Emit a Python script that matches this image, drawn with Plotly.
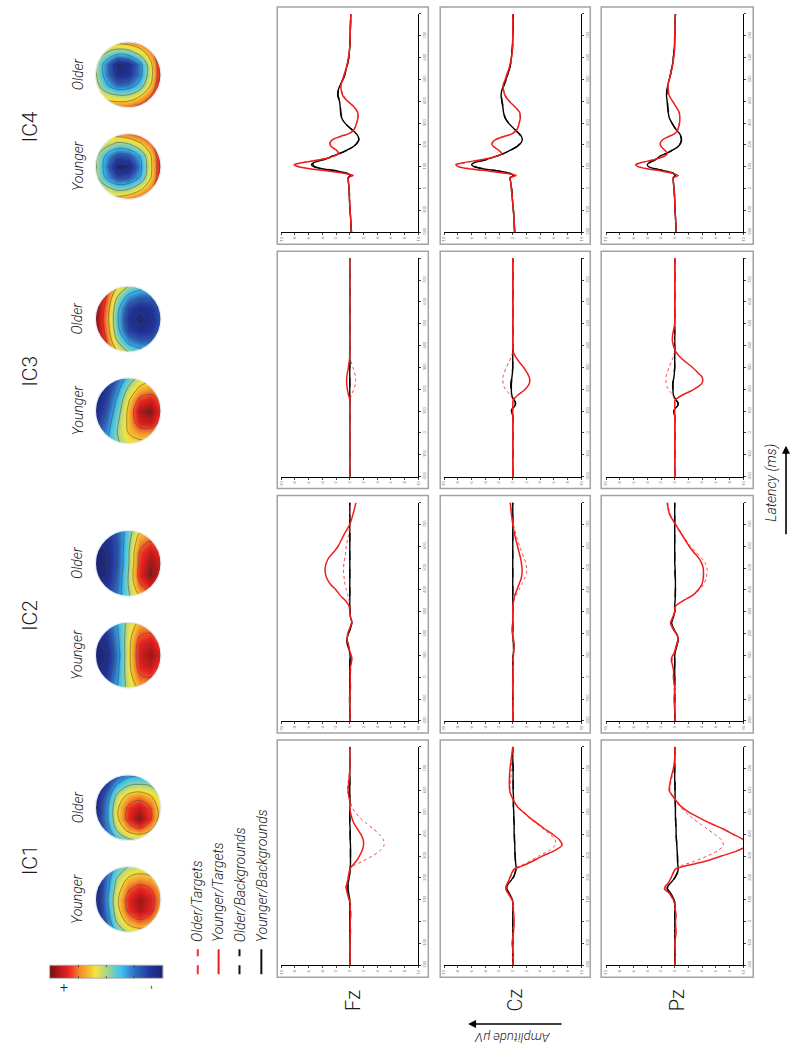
import math
import plotly.graph_objects as go

# ---------------------------------------------------------------- data
LATENCY = [-200, -150, -100, -50, 0, 30, 50, 60, 70, 80, 90,
           100, 110, 120, 130, 140, 150, 160, 175, 190, 200, 210,
           225, 240, 250, 260, 275, 300, 325, 350, 375, 400, 425,
           450, 475, 500, 525, 550, 575, 600, 650, 700, 750, 800]

ZERO = [0.0] * 11

# IC1
IC1_FZ_OT = [0, 0, 0.05, 0, 0.1, 0.05, 0, 0.1, 0, 0.05, 0,
             -0.1, -0.15, -0.25, -0.35, -0.5, -0.6, -0.6, -0.45, -0.3, -0.2, -0.15,
             -0.05, 0.05, 0.3, 0.8, 1.8, 3.3, 4.4, 5.0, 4.9, 4.3, 3.4,
             2.4, 1.5, 0.8, 0.3, 0.1, -0.1, -0.35, -0.2, 0, 0, 0]
IC1_FZ_YT = [0, 0.05, 0, 0.1, 0.05, 0.15, 0.1, 0, 0.05, 0.1, 0,
             -0.1, -0.2, -0.3, -0.35, -0.45, -0.5, -0.5, -0.4, -0.3, -0.25, -0.2,
             -0.1, 0, 0.2, 0.5, 0.9, 1.4, 1.8, 2.0, 1.95, 1.6, 1.1,
             0.6, 0.3, 0.1, 0, 0, -0.15, -0.25, -0.1, 0, 0, 0]
IC1_FZ_OB = [0, 0, 0, 0, 0, 0, 0.05, 0, 0, 0, 0,
             0, -0.05, -0.1, -0.15, -0.2, -0.25, -0.25, -0.2, -0.15, -0.1, -0.05,
             0, 0.05, 0.1, 0.1, 0.1, 0.1, 0.1, 0.1, 0.1, 0.05, 0.05,
             0.05, 0, 0, 0, 0, 0, 0, 0, 0, 0, 0]
IC1_FZ_YB = [0, 0, 0, 0, 0, 0, 0, 0, 0, 0, 0,
             0, -0.05, -0.1, -0.2, -0.25, -0.3, -0.3, -0.25, -0.15, -0.1, -0.05,
             0, 0.05, 0.05, 0.1, 0.1, 0.1, 0.1, 0.1, 0.05, 0.05, 0.05,
             0, 0, 0, 0, 0, 0, 0, 0, 0, 0, 0]

IC1_CZ_OT = [0, -0.05, 0.1, 0, 0.1, 0.05, 0, 0.1, 0.05, 0, -0.05,
             -0.15, -0.3, -0.45, -0.6, -0.8, -0.9, -0.9, -0.7, -0.5, -0.35, -0.2,
             -0.05, 0.2, 0.7, 1.4, 2.4, 3.8, 5.3, 6.2, 6.2, 5.4, 4.4,
             3.4, 2.4, 1.5, 0.7, 0.2, -0.2, -0.4, -0.3, -0.2, -0.1, 0]
IC1_CZ_YT = [0, 0.1, -0.1, 0.1, 0.2, 0.15, 0.1, 0.05, 0, 0.1, 0,
             -0.1, -0.3, -0.5, -0.7, -0.9, -1.0, -1.0, -0.8, -0.55, -0.45, -0.3,
             -0.1, 0.2, 1.0, 1.8, 2.8, 4.3, 6.1, 7.2, 6.8, 5.8, 4.6,
             3.6, 2.5, 1.6, 0.7, 0.2, -0.2, -0.45, -0.5, -0.4, -0.2, 0]
IC1_CZ_OB = [0, 0, 0, 0, 0, 0, 0, 0, 0, 0, 0,
             -0.05, -0.15, -0.3, -0.5, -0.7, -0.85, -0.85, -0.55, -0.15, 0.05, 0.2,
             0.35, 0.45, 0.5, 0.45, 0.4, 0.35, 0.3, 0.3, 0.25, 0.25, 0.2,
             0.2, 0.15, 0.15, 0.1, 0.1, 0.1, 0.1, 0.05, 0.05, 0, 0]
IC1_CZ_YB = [0, 0, 0, 0, 0, 0, 0, 0, 0, 0, 0,
             -0.05, -0.2, -0.35, -0.55, -0.75, -0.9, -0.9, -0.6, -0.2, 0, 0.2,
             0.35, 0.5, 0.5, 0.45, 0.4, 0.35, 0.3, 0.3, 0.25, 0.2, 0.2,
             0.2, 0.15, 0.15, 0.1, 0.1, 0.1, 0.05, 0.05, 0.05, 0, 0]

IC1_PZ_OT = [0, 0.05, 0.1, 0, 0.1, 0.15, 0.05, 0.1, 0, 0.05, -0.05,
             -0.2, -0.35, -0.55, -0.75, -1.1, -1.3, -1.3, -0.95, -0.65, -0.5, -0.35,
             -0.15, 0.1, 0.5, 1.3, 2.8, 4.7, 6.3, 7.1, 6.8, 5.8, 4.7,
             3.6, 2.5, 1.6, 0.8, 0.2, -0.3, -0.7, -0.5, -0.1, 0, 0]
IC1_PZ_YT = [0, 0.1, 0, 0.2, 0.1, 0.2, 0.1, 0, 0.1, 0, -0.1,
             -0.2, -0.4, -0.6, -0.8, -1.2, -1.5, -1.4, -1.0, -0.7, -0.55, -0.4,
             -0.2, 0.1, 1.0, 2.3, 4.3, 6.8, 9.2, 10.6, 10.0, 8.5, 7.0,
             5.2, 3.6, 2.1, 1.0, 0.3, -0.3, -0.8, -0.6, -0.2, 0, 0]
IC1_PZ_OB = [0, 0, 0, 0, 0, 0, 0, 0, 0, 0, 0,
             -0.1, -0.2, -0.35, -0.6, -0.85, -1.05, -1.0, -0.6, -0.2, 0, 0.2,
             0.4, 0.5, 0.5, 0.45, 0.45, 0.4, 0.35, 0.3, 0.25, 0.2, 0.2,
             0.15, 0.15, 0.1, 0.1, 0.1, 0.05, 0.05, 0.05, 0, 0, 0]
IC1_PZ_YB = [0, 0, 0, 0, 0, 0, 0, 0, 0, 0, 0,
             -0.1, -0.25, -0.4, -0.65, -0.9, -1.1, -1.05, -0.65, -0.25, 0, 0.15,
             0.4, 0.5, 0.5, 0.45, 0.4, 0.4, 0.35, 0.3, 0.25, 0.2, 0.2,
             0.15, 0.1, 0.1, 0.1, 0.05, 0.05, 0.05, 0, 0, 0, 0]

# IC2
IC2_FZ_OT = [0, 0, 0.05, 0, 0.1, 0.05, 0.1, 0.15, 0.2, 0.25, 0.2,
             0.15, 0.1, 0, -0.05, -0.1, -0.2, -0.3, -0.35, -0.3, -0.25, -0.15,
             0, 0.15, 0.25, 0.2, 0.1, 0, 0, -0.1, -0.3, -0.5, -0.7,
             -0.8, -0.9, -0.9, -0.85, -0.7, -0.6, -0.5, -0.2, 0, 0, 0.1]
IC2_FZ_YT = [0, 0.05, -0.05, 0.1, 0.05, 0.1, 0.1, 0.2, 0.25, 0.3, 0.3,
             0.2, 0.1, 0, -0.1, -0.15, -0.2, -0.3, -0.4, -0.35, -0.3, -0.2,
             0, 0.2, 0.3, 0.25, 0.1, 0, -0.1, -0.6, -1.4, -2.0, -2.8,
             -3.3, -3.55, -3.6, -3.4, -3.0, -2.3, -1.7, -0.9, 0, 0.5, 0.9]
IC2_FZ_OB = [0, 0, 0, 0, 0, 0, 0, 0.05, 0.05, 0.05, 0.05,
             0, 0, -0.05, -0.1, -0.2, -0.3, -0.35, -0.4, -0.3, -0.2, -0.1,
             0.05, 0.2, 0.25, 0.2, 0.1, 0, 0, 0, 0, 0, 0,
             0, 0, 0, 0, 0, 0, 0, 0, 0, 0, 0]
IC2_FZ_YB = [0, 0, 0, 0, 0, 0, 0, 0, 0, 0.05, 0.05,
             0.05, 0, -0.05, -0.15, -0.25, -0.35, -0.4, -0.4, -0.3, -0.2, -0.05,
             0.1, 0.25, 0.3, 0.25, 0.1, 0.05, 0, 0, 0, 0, 0,
             0, 0, 0, 0, 0, 0, 0, 0, 0, 0, 0]

IC2_CZ_OT = [0, 0, 0, 0.05, 0, 0, 0.05, 0.05, 0, 0.05, 0,
             0.05, 0.1, 0.1, 0.1, 0.15, 0.15, 0.1, 0.05, 0, -0.05, -0.05,
             -0.05, 0, 0, 0, 0, 0, 0.05, 0.2, 0.5, 0.9, 1.3,
             1.7, 2.0, 2.0, 1.9, 1.6, 1.3, 1.0, 0.5, 0.1, -0.2, -0.4]
IC2_CZ_YT = [0, 0, 0.05, 0, 0, 0.05, 0, 0.1, 0.05, 0, 0.05,
             0.1, 0.1, 0.1, 0.15, 0.2, 0.2, 0.15, 0.1, 0, -0.05, -0.1,
             -0.1, -0.05, 0, 0, 0, 0, 0, 0.1, 0.3, 0.6, 0.9,
             1.2, 1.35, 1.35, 1.25, 1.1, 0.9, 0.7, 0.3, 0, -0.2, -0.35]
IC2_CZ_OB = ZERO + [0, 0.05, 0.1, 0.1, 0.1, 0.1, 0.1, 0.05, 0, 0, 0] + ZERO + ZERO
IC2_CZ_YB = ZERO + [0.05, 0.1, 0.15, 0.15, 0.15, 0.15, 0.1, 0.05, 0, 0, 0] + ZERO + ZERO

IC2_PZ_OT = [0, 0.05, 0, -0.1, -0.1, -0.2, -0.25, -0.3, -0.3, -0.35, -0.3,
             -0.2, -0.05, 0.05, 0.15, 0.2, 0.3, 0.35, 0.45, 0.35, 0.2, 0,
             -0.25, -0.45, -0.5, -0.45, -0.25, 0, 0.1, 1.1, 2.6, 3.6, 4.2,
             4.55, 4.7, 4.7, 4.4, 3.8, 3.0, 2.3, 1.2, 0.2, -0.7, -1.0]
IC2_PZ_YT = [0.1, 0, -0.1, 0, -0.2, -0.15, -0.3, -0.35, -0.45, -0.5, -0.45,
             -0.3, -0.1, 0, 0.1, 0.2, 0.3, 0.4, 0.5, 0.4, 0.2, 0,
             -0.3, -0.55, -0.6, -0.5, -0.3, 0, 0.1, 1.2, 2.6, 3.4, 3.95,
             4.15, 4.2, 4.15, 3.9, 3.4, 2.7, 2.1, 1.1, 0.1, -0.8, -1.1]
IC2_PZ_OB = [0, 0, 0, 0, 0, 0, 0, 0, 0, 0, 0,
             0, 0.05, 0.1, 0.15, 0.2, 0.3, 0.4, 0.45, 0.35, 0.2, 0,
             -0.25, -0.4, -0.45, -0.35, -0.2, 0, 0, 0.05, 0.05, 0.1, 0.1,
             0.1, 0.05, 0.05, 0, 0, 0, 0, 0, 0, 0, 0]
IC2_PZ_YB = [0, 0, 0, 0, 0, 0, 0, 0, 0, 0, 0,
             0, 0.05, 0.1, 0.2, 0.3, 0.35, 0.45, 0.5, 0.4, 0.25, 0.05,
             -0.2, -0.4, -0.45, -0.35, -0.2, 0, 0, 0.05, 0.1, 0.1, 0.1,
             0.1, 0.05, 0.05, 0, 0, 0, 0, 0, 0, 0, 0]

# IC3
IC3_FZ_OT = ZERO + [0, 0, 0, 0, 0, 0.02, 0.1, 0.25, 0.45, 0.55, 0.7] + \
    [0.8, 0.85, 0.85, 0.8, 0.7, 0.45, 0.2, 0.05, 0, 0, 0] + ZERO
IC3_FZ_YT = ZERO + [0, 0, 0, 0, 0, 0, -0.05, -0.2, -0.3, -0.35, -0.4] + \
    [-0.45, -0.45, -0.45, -0.42, -0.35, -0.2, -0.1, 0, 0, 0, 0] + ZERO
IC3_FZ_OB = ZERO * 4
IC3_FZ_YB = ZERO * 4

IC3_CZ_OT = ZERO + [0, 0, 0, 0, 0, 0, -0.1, -0.4, -0.8, -1.05, -1.25] + \
    [-1.4, -1.45, -1.45, -1.4, -1.25, -0.95, -0.55, -0.2, 0, 0, 0] + ZERO
IC3_CZ_YT = ZERO + [0, 0, 0, 0, 0.02, 0.05, 0.3, 0.8, 1.45, 1.8, 2.1] + \
    [2.4, 2.5, 2.45, 2.35, 2.1, 1.6, 0.95, 0.4, 0.05, 0, 0] + ZERO
IC3_CZ_OB = [0, 0, 0, 0, 0, 0, 0, 0, 0, 0, -0.1,
             -0.15, -0.05, 0.15, 0.35, 0.35, 0.2, 0, -0.2, -0.3, -0.3, -0.3,
             -0.3, -0.25, -0.2, -0.15, -0.1, 0, 0, 0, 0, 0, 0] + ZERO
IC3_CZ_YB = [0, 0, 0, 0, 0, 0, 0, 0, 0, 0, -0.1,
             -0.2, -0.1, 0.2, 0.4, 0.4, 0.2, 0, -0.15, -0.2, -0.2, -0.2,
             -0.2, -0.15, -0.15, -0.1, -0.05, 0, 0, 0, 0, 0, 0] + ZERO

IC3_PZ_OT = ZERO + [0, 0, 0, 0, 0, 0, -0.1, -0.35, -0.7, -0.95, -1.1] + \
    [-1.25, -1.3, -1.3, -1.25, -1.1, -0.85, -0.5, -0.2, 0, 0, 0] + ZERO
IC3_PZ_YT = ZERO + [0, 0, 0, 0, 0.02, 0.05, 0.4, 1.2, 2.2, 2.8, 3.3] + \
    [3.9, 4.1, 4.05, 3.9, 3.4, 2.6, 1.6, 0.7, 0.1, -0.2, -0.35] + \
    [-0.3, -0.15, 0, 0, 0, 0, 0, 0, 0, 0, 0]
IC3_PZ_OB = [0, 0, 0, 0, 0, 0, 0, 0, 0, 0, -0.1,
             -0.15, 0, 0.3, 0.5, 0.45, 0.2, 0, -0.2, -0.25, -0.3, -0.3,
             -0.3, -0.25, -0.2, -0.15, -0.1, 0, 0, 0, 0, 0, 0] + ZERO
IC3_PZ_YB = [0, 0, 0, 0, 0, 0, 0, 0, 0, 0, -0.1,
             -0.15, 0, 0.3, 0.5, 0.45, 0.2, 0, -0.2, -0.25, -0.25, -0.25,
             -0.25, -0.2, -0.15, -0.1, -0.05, 0, 0, 0, 0, 0, 0] + ZERO

# IC4
IC4_FZ_OT = [0.2, 0.15, 0.05, 0, -0.1, -0.2, -0.2, 0.45, -0.7, -2.8, -5.4,
             -7.3, -7.9, -6.7, -4.8, -3.2, -2.2, -1.7, -2.0, -2.6, -2.8, -2.8,
             -2.4, -1.2, -0.3, 0.25, 0.65, 0.95, 1.15, 1.1, 0.6, -0.25, -0.9,
             -1.2, -1.25, -1.0, -0.75, -0.5, -0.3, -0.15, 0, 0.05, 0.1, 0.15]
IC4_FZ_YT = [0.25, 0.15, 0.05, -0.05, -0.1, -0.2, -0.25, 0.5, -0.8, -3.0, -5.6,
             -7.5, -8.1, -6.8, -4.8, -3.2, -2.2, -1.6, -1.9, -2.6, -2.85, -2.9,
             -2.5, -1.3, -0.3, 0.3, 0.7, 1.0, 1.2, 1.15, 0.6, -0.3, -1.0,
             -1.25, -1.3, -1.05, -0.8, -0.55, -0.35, -0.2, 0, 0.05, 0.1, 0.15]
IC4_FZ_OB = [0.2, 0.15, 0.05, 0, -0.1, -0.2, -0.2, 0.1, -0.35, -1.7, -3.6,
             -5.0, -5.4, -5.0, -4.1, -3.1, -2.4, -1.5, -0.45, 0.4, 0.8, 1.05,
             1.3, 1.15, 0.95, 0.65, 0.1, -0.7, -1.15, -1.3, -1.35, -1.45, -1.7,
             -1.65, -1.35, -1.0, -0.7, -0.45, -0.3, -0.15, 0, 0.05, 0.1, 0.15]
IC4_FZ_YB = [0.25, 0.15, 0.05, -0.05, -0.1, -0.2, -0.25, 0.1, -0.4, -1.8, -3.8,
             -5.2, -5.6, -5.2, -4.2, -3.2, -2.5, -1.6, -0.5, 0.4, 0.8, 1.1,
             1.35, 1.2, 1.0, 0.7, 0.15, -0.7, -1.2, -1.35, -1.4, -1.5, -1.75,
             -1.7, -1.4, -1.0, -0.7, -0.5, -0.3, -0.15, 0, 0.05, 0.1, 0.15]

IC4_CZ_OT = [0.25, 0.2, 0.1, 0, -0.15, -0.3, -0.35, 0.45, -0.8, -3.1, -5.9,
             -7.7, -8.1, -6.9, -5.0, -3.3, -2.3, -1.7, -2.1, -2.7, -2.95, -2.95,
             -2.4, -1.15, -0.2, 0.25, 0.65, 0.9, 1.05, 0.95, 0.3, -0.45, -1.0,
             -1.3, -1.35, -1.05, -0.8, -0.5, -0.3, -0.15, 0, 0, 0, 0]
IC4_CZ_YT = [0.3, 0.2, 0.1, -0.05, -0.2, -0.3, -0.4, 0.5, -0.9, -3.3, -6.1,
             -7.9, -8.3, -7.0, -5.0, -3.3, -2.2, -1.6, -2.0, -2.7, -3.0, -3.0,
             -2.5, -1.2, -0.2, 0.3, 0.7, 0.95, 1.1, 1.0, 0.3, -0.5, -1.1,
             -1.35, -1.4, -1.1, -0.85, -0.55, -0.35, -0.2, 0, 0, 0, 0]
IC4_CZ_OB = [0.25, 0.2, 0.1, 0, -0.15, -0.3, -0.35, 0.1, -0.35, -1.9, -4.0,
             -5.4, -5.8, -5.4, -4.2, -3.1, -2.2, -1.35, -0.4, 0.45, 0.85, 1.15,
             1.35, 1.2, 0.95, 0.65, 0.1, -0.6, -1.1, -1.3, -1.4, -1.55, -1.65,
             -1.55, -1.25, -0.95, -0.7, -0.45, -0.3, -0.2, -0.05, 0, 0.05, 0.05]
IC4_CZ_YB = [0.3, 0.2, 0.1, -0.05, -0.2, -0.3, -0.4, 0.1, -0.4, -2.0, -4.2,
             -5.6, -6.0, -5.5, -4.3, -3.2, -2.3, -1.4, -0.4, 0.5, 0.9, 1.2,
             1.4, 1.25, 1.0, 0.7, 0.15, -0.6, -1.15, -1.35, -1.45, -1.6, -1.7,
             -1.6, -1.3, -1.0, -0.7, -0.5, -0.3, -0.2, -0.05, 0, 0.05, 0.05]

IC4_PZ_OT = [0.2, 0.1, 0.05, 0, -0.1, -0.15, -0.2, 0.45, -0.3, -1.7, -3.6,
             -5.1, -5.5, -4.7, -3.4, -2.2, -1.45, -1.15, -1.45, -1.9, -2.05, -2.05,
             -1.65, -0.8, -0.1, 0.2, 0.45, 0.65, 0.7, 0.6, 0.2, -0.3, -0.75,
             -0.9, -0.95, -0.8, -0.6, -0.4, -0.25, -0.15, 0, 0, 0.05, 0.1]
IC4_PZ_YT = [0.2, 0.15, 0.05, 0, -0.1, -0.2, -0.2, 0.5, -0.3, -1.8, -3.8,
             -5.3, -5.7, -4.8, -3.4, -2.2, -1.4, -1.1, -1.4, -1.9, -2.1, -2.1,
             -1.7, -0.8, -0.1, 0.25, 0.5, 0.7, 0.75, 0.65, 0.2, -0.3, -0.8,
             -0.95, -1.0, -0.8, -0.6, -0.4, -0.25, -0.15, 0, 0, 0.05, 0.1]
IC4_PZ_OB = [0.2, 0.1, 0.05, 0, -0.1, -0.15, -0.2, 0.1, -0.2, -1.1, -2.7,
             -3.7, -3.9, -3.6, -3.0, -2.4, -2.0, -1.25, -0.4, 0.35, 0.65, 0.85,
             0.95, 0.85, 0.7, 0.45, 0.1, -0.4, -0.75, -0.9, -1.0, -1.05, -1.15,
             -1.1, -0.95, -0.8, -0.6, -0.45, -0.3, -0.2, -0.05, 0, 0.05, 0.1]
IC4_PZ_YB = [0.2, 0.15, 0.05, 0, -0.1, -0.2, -0.2, 0.1, -0.2, -1.2, -2.8,
             -3.8, -4.0, -3.7, -3.0, -2.5, -2.1, -1.3, -0.4, 0.4, 0.7, 0.9,
             1.0, 0.9, 0.75, 0.5, 0.1, -0.4, -0.8, -0.95, -1.05, -1.1, -1.2,
             -1.15, -1.0, -0.8, -0.6, -0.45, -0.3, -0.2, -0.05, 0, 0.05, 0.1]

# scalp maps: 7x7 grids, rows listed top to bottom as drawn, columns left to right
MAP_COORD = [-1.0, -2 / 3, -1 / 3, 0.0, 1 / 3, 2 / 3, 1.0]
IC1_YOUNGER_MAP = [[-0.9, -0.6, -0.2, 0.0, 0.1, 0.05, -0.1],
                   [-0.95, -0.5, 0.0, 0.3, 0.4, 0.35, 0.15],
                   [-1.0, -0.45, 0.15, 0.55, 0.7, 0.6, 0.35],
                   [-1.0, -0.4, 0.25, 0.7, 0.9, 0.75, 0.4],
                   [-1.0, -0.45, 0.2, 0.65, 0.85, 0.7, 0.35],
                   [-0.95, -0.55, 0.05, 0.4, 0.55, 0.45, 0.15],
                   [-0.9, -0.65, -0.2, 0.05, 0.15, 0.1, -0.1]]
IC1_OLDER_MAP = [[-1.0, -0.85, -0.6, -0.4, -0.35, -0.4, -0.5],
                 [-1.0, -0.7, -0.25, 0.0, 0.05, 0.0, -0.2],
                 [-0.95, -0.5, 0.1, 0.4, 0.5, 0.35, 0.05],
                 [-0.95, -0.4, 0.25, 0.65, 0.8, 0.6, 0.15],
                 [-0.9, -0.4, 0.25, 0.7, 0.95, 0.65, 0.15],
                 [-0.9, -0.5, 0.05, 0.4, 0.55, 0.35, -0.05],
                 [-0.9, -0.65, -0.3, -0.1, -0.05, -0.15, -0.35]]
IC2_YOUNGER_MAP = [[-0.7, -0.6, -0.3, 0.1, 0.35, 0.4, 0.3],
                   [-0.85, -0.75, -0.35, 0.15, 0.55, 0.6, 0.45],
                   [-0.95, -0.85, -0.4, 0.2, 0.7, 0.8, 0.6],
                   [-1.0, -0.9, -0.45, 0.2, 0.75, 0.9, 0.7],
                   [-0.95, -0.85, -0.4, 0.2, 0.7, 0.8, 0.6],
                   [-0.85, -0.75, -0.35, 0.15, 0.55, 0.6, 0.45],
                   [-0.7, -0.6, -0.3, 0.1, 0.35, 0.4, 0.3]]
IC2_OLDER_MAP = [[-0.8, -0.75, -0.55, -0.15, 0.25, 0.35, 0.3],
                 [-0.9, -0.85, -0.6, -0.1, 0.45, 0.6, 0.5],
                 [-1.0, -0.9, -0.6, -0.05, 0.6, 0.8, 0.65],
                 [-1.0, -0.9, -0.6, -0.05, 0.65, 0.9, 0.75],
                 [-0.95, -0.9, -0.55, 0.0, 0.7, 0.95, 0.75],
                 [-0.9, -0.8, -0.5, 0.0, 0.55, 0.75, 0.6],
                 [-0.8, -0.7, -0.45, -0.05, 0.3, 0.45, 0.4]]
IC3_YOUNGER_MAP = [[-1.0, -0.85, -0.55, -0.2, 0.1, 0.2, 0.15],
                   [-1.0, -0.8, -0.4, 0.05, 0.35, 0.45, 0.35],
                   [-0.95, -0.7, -0.25, 0.25, 0.65, 0.75, 0.55],
                   [-0.9, -0.6, -0.15, 0.35, 0.85, 0.95, 0.65],
                   [-0.8, -0.5, -0.05, 0.35, 0.75, 0.8, 0.55],
                   [-0.7, -0.4, 0.0, 0.3, 0.45, 0.45, 0.3],
                   [-0.6, -0.35, -0.05, 0.15, 0.2, 0.2, 0.1]]
IC3_OLDER_MAP = [[0.9, 0.7, 0.3, 0.0, -0.15, -0.25, -0.35],
                 [1.0, 0.6, 0.0, -0.4, -0.55, -0.55, -0.45],
                 [1.0, 0.5, -0.2, -0.7, -0.85, -0.8, -0.55],
                 [1.0, 0.45, -0.25, -0.8, -0.95, -0.85, -0.6],
                 [1.0, 0.5, -0.2, -0.7, -0.85, -0.8, -0.55],
                 [1.0, 0.6, 0.0, -0.4, -0.55, -0.55, -0.45],
                 [0.9, 0.7, 0.3, 0.0, -0.15, -0.25, -0.35]]
IC4_YOUNGER_MAP = [[0.35, 0.4, 0.45, 0.55, 0.65, 0.8, 0.9],
                   [0.25, 0.1, -0.1, -0.05, 0.2, 0.5, 0.9],
                   [0.1, -0.35, -0.65, -0.6, -0.3, 0.25, 0.85],
                   [0.05, -0.45, -1.0, -0.95, -0.45, 0.2, 0.85],
                   [0.1, -0.35, -0.65, -0.6, -0.3, 0.25, 0.85],
                   [0.25, 0.1, -0.1, -0.05, 0.2, 0.5, 0.9],
                   [0.35, 0.4, 0.45, 0.55, 0.65, 0.8, 0.9]]
IC4_OLDER_MAP = [[0.35, 0.35, 0.4, 0.45, 0.55, 0.75, 0.9],
                 [0.2, 0.0, -0.2, -0.15, 0.1, 0.45, 0.9],
                 [0.05, -0.45, -0.95, -0.85, -0.45, 0.2, 0.85],
                 [0.05, -0.45, -0.85, -0.8, -0.45, 0.15, 0.85],
                 [0.15, -0.25, -0.5, -0.45, -0.2, 0.3, 0.9],
                 [0.3, 0.2, 0.1, 0.1, 0.3, 0.6, 0.95],
                 [0.45, 0.5, 0.55, 0.6, 0.7, 0.85, 0.95]]

COLORBAR_LEVELS = [1.0, 0.9, 0.8, 0.7, 0.6, 0.5, 0.4, 0.3, 0.2, 0.1, 0.0,
                   -0.1, -0.2, -0.3, -0.4, -0.5, -0.6, -0.7, -0.8, -0.9, -1.0]

IC_LABELS = ["IC1", "IC2", "IC3", "IC4"]
ELECTRODES = ["Fz", "Cz", "Pz"]
GROUP_LABELS = ["Younger", "Older"]
CONDITION_LABELS = ["Older/Targets", "Younger/Targets",
                    "Older/Backgrounds", "Younger/Backgrounds"]
AMP_TICKS = [-10, -8, -6, -4, -2, 0, 2, 4, 6, 8, 10]
LAT_TICKS = [-200, -100, 0, 100, 200, 300, 400, 500, 600, 700, 800]
LAT_TICK_TEXT = ["-200", "-100", "0", "100", "200", "300", "400",
                 "500", "600", "700", ""]

WAVES = {
    (0, 0): (IC1_FZ_OT, IC1_FZ_YT, IC1_FZ_OB, IC1_FZ_YB),
    (0, 1): (IC1_CZ_OT, IC1_CZ_YT, IC1_CZ_OB, IC1_CZ_YB),
    (0, 2): (IC1_PZ_OT, IC1_PZ_YT, IC1_PZ_OB, IC1_PZ_YB),
    (1, 0): (IC2_FZ_OT, IC2_FZ_YT, IC2_FZ_OB, IC2_FZ_YB),
    (1, 1): (IC2_CZ_OT, IC2_CZ_YT, IC2_CZ_OB, IC2_CZ_YB),
    (1, 2): (IC2_PZ_OT, IC2_PZ_YT, IC2_PZ_OB, IC2_PZ_YB),
    (2, 0): (IC3_FZ_OT, IC3_FZ_YT, IC3_FZ_OB, IC3_FZ_YB),
    (2, 1): (IC3_CZ_OT, IC3_CZ_YT, IC3_CZ_OB, IC3_CZ_YB),
    (2, 2): (IC3_PZ_OT, IC3_PZ_YT, IC3_PZ_OB, IC3_PZ_YB),
    (3, 0): (IC4_FZ_OT, IC4_FZ_YT, IC4_FZ_OB, IC4_FZ_YB),
    (3, 1): (IC4_CZ_OT, IC4_CZ_YT, IC4_CZ_OB, IC4_CZ_YB),
    (3, 2): (IC4_PZ_OT, IC4_PZ_YT, IC4_PZ_OB, IC4_PZ_YB),
}
MAPS = [(IC1_YOUNGER_MAP, IC1_OLDER_MAP), (IC2_YOUNGER_MAP, IC2_OLDER_MAP),
        (IC3_YOUNGER_MAP, IC3_OLDER_MAP), (IC4_YOUNGER_MAP, IC4_OLDER_MAP)]

for key, series in WAVES.items():
    for s in series:
        assert len(s) == len(LATENCY), (key, len(s))

# ---------------------------------------------------------------- layout helpers
W, H = 791, 1053
FONT = "Roboto, 'Liberation Sans', Arial, sans-serif"
JET = [[0.0, "#1b2470"], [0.12, "#23369a"], [0.25, "#2f6cc0"],
       [0.38, "#3ec4ef"], [0.5, "#a7d58e"], [0.6, "#f3e53c"],
       [0.72, "#f6982a"], [0.84, "#ea2522"], [1.0, "#7a0f12"]]


def px(x):
    return x / W


def py(y):
    return 1 - y / H


def label(text, x, y, size, angle=-90, italic=False, **extra):
    font = dict(size=size, family=FONT, color="#1a1a1a", weight=300)
    if italic:
        font["style"] = "italic"
    ann = dict(text=text, x=px(x), y=py(y), xref="paper", yref="paper",
               showarrow=False, textangle=angle, xanchor="center",
               yanchor="middle", font=font)
    ann.update(extra)
    return ann


fig = go.Figure()
layout = {}
shapes = []
annotations = []

# condition styles: backgrounds drawn first, targets on top
STYLES = [
    (2, dict(color="#111111", width=1.4, dash="dash")),      # Older/Backgrounds
    (3, dict(color="#000000", width=1.4)),                   # Younger/Backgrounds
    (0, dict(color="#ff2b2b", width=0.9, dash="dot")),       # Older/Targets
    (1, dict(color="#ee1d1d", width=1.5)),                   # Younger/Targets
]

IC_TOP = [742, 497, 252, 7]
AXIS_X = [(280, 418), (444, 582), (607, 745)]
FRAME_X = [(276, 428), (440, 591), (602, 755)]

k = 0
for i in range(4):
    top = IC_TOP[i]
    for j in range(3):
        k += 1
        sfx = "" if k == 1 else str(k)
        series = WAVES[(i, j)]
        for idx, style in STYLES:
            fig.add_trace(go.Scatter(
                x=series[idx], y=LATENCY, mode="lines",
                line=dict(shape="spline", smoothing=0.7, **style),
                xaxis="x" + sfx, yaxis="y" + sfx,
                showlegend=False, hoverinfo="skip"))
        x0, x1 = AXIS_X[j]
        layout["xaxis" + sfx] = dict(
            domain=[px(x0), px(x1)], range=[-10, 10], anchor="y" + sfx,
            side="bottom", showline=True, linecolor="black", linewidth=1.2,
            ticks="outside", ticklen=2, tickwidth=0.6, tickcolor="#444",
            tickvals=AMP_TICKS, ticktext=[str(v) for v in AMP_TICKS],
            tickangle=-90, tickfont=dict(size=4, color="#777", family=FONT),
            showgrid=False, zeroline=False, fixedrange=True)
        layout["yaxis" + sfx] = dict(
            domain=[py(top + 226), py(top + 7)], range=[-200, 800],
            anchor="x" + sfx, side="right", showline=True, linecolor="black",
            linewidth=1.2, ticks="outside", ticklen=2, tickwidth=0.6,
            tickcolor="#444", tickvals=LAT_TICKS, ticktext=LAT_TICK_TEXT,
            tickangle=-90, tickfont=dict(size=4, color="#777", family=FONT),
            showgrid=False, zeroline=False, fixedrange=True)
        fx0, fx1 = FRAME_X[j]
        shapes.append(dict(type="rect", xref="paper", yref="paper",
                           x0=px(fx0), x1=px(fx1), y0=py(top + 238), y1=py(top),
                           line=dict(color="#a3a3a3", width=1.5), layer="below"))

# ---------------------------------------------------------------- scalp maps
MAP_CX, MAP_R, MAP_PAD = 126, 33, 1.35
circle_pts = [(math.cos(2 * math.pi * t / 96), math.sin(2 * math.pi * t / 96))
              for t in range(96)]
hole = "M " + " L ".join(f"{c:.4f},{s:.4f}" for c, s in circle_pts) + " Z"
outer = (f"M {-MAP_PAD},{-MAP_PAD} L {-MAP_PAD},{MAP_PAD} L {MAP_PAD},{MAP_PAD} "
         f"L {MAP_PAD},{-MAP_PAD} Z ")

for i in range(4):
    centre = IC_TOP[i] + 119
    annotations.append(label(IC_LABELS[i], 27, centre + 1, 21))
    for g, cy in enumerate((centre + 41, centre - 51)):
        k += 1
        sfx = str(k)
        grid = MAPS[i][g]
        fig.add_trace(go.Contour(
            z=grid[::-1], x=MAP_COORD, y=MAP_COORD, colorscale=JET,
            zmin=-1, zmax=1, showscale=False, hoverinfo="skip",
            contours=dict(start=-0.9, end=0.9, size=0.3, coloring="heatmap",
                          showlines=True),
            line=dict(color="rgba(70,70,70,0.75)", width=0.7, smoothing=1.2),
            xaxis="x" + sfx, yaxis="y" + sfx))
        half = MAP_R * MAP_PAD
        layout["xaxis" + sfx] = dict(domain=[px(MAP_CX - half), px(MAP_CX + half)],
                                     range=[-MAP_PAD, MAP_PAD], visible=False,
                                     anchor="y" + sfx, fixedrange=True)
        layout["yaxis" + sfx] = dict(domain=[py(cy + half), py(cy - half)],
                                     range=[-MAP_PAD, MAP_PAD], visible=False,
                                     anchor="x" + sfx, fixedrange=True)
        shapes.append(dict(type="path", xref="x" + sfx, yref="y" + sfx,
                           path=outer + hole, fillcolor="white",
                           line=dict(width=0), layer="above"))
        shapes.append(dict(type="circle", xref="x" + sfx, yref="y" + sfx,
                           x0=-1, x1=1, y0=-1, y1=1,
                           line=dict(color="#e3edf5", width=1.2), layer="above"))
        annotations.append(label(GROUP_LABELS[g], 75, cy, 14, italic=True))

# ---------------------------------------------------------------- colour bar
k += 1
sfx = str(k)
fig.add_trace(go.Heatmap(z=[COLORBAR_LEVELS, COLORBAR_LEVELS],
                         x=list(range(len(COLORBAR_LEVELS))), y=[0, 1],
                         colorscale=JET, zmin=-1, zmax=1, zsmooth="best",
                         showscale=False, hoverinfo="skip",
                         xaxis="x" + sfx, yaxis="y" + sfx))
layout["xaxis" + sfx] = dict(domain=[px(47), px(161)], range=[0, len(COLORBAR_LEVELS) - 1],
                             visible=False, anchor="y" + sfx, fixedrange=True)
layout["yaxis" + sfx] = dict(domain=[py(981), py(968)], range=[0, 1],
                             visible=False, anchor="x" + sfx, fixedrange=True)
shapes.append(dict(type="rect", xref="paper", yref="paper", x0=px(47), x1=px(161),
                   y0=py(981), y1=py(968), line=dict(color="#999", width=0.8)))
for tx in (76, 104, 132):
    for ty0, ty1 in ((968, 970), (979, 981)):
        shapes.append(dict(type="line", xref="paper", yref="paper",
                           x0=px(tx), x1=px(tx), y0=py(ty0), y1=py(ty1),
                           line=dict(color="#333", width=0.8)))
annotations.append(label("+", 61, 990, 14, angle=0))
annotations.append(label("-", 149, 990, 14))

# ---------------------------------------------------------------- legend
LEGEND_X = [196, 217, 238, 260]
LEGEND_LINES = [dict(color="#ff2b2b", width=2, dash="dash"),
                dict(color="#ee1d1d", width=2),
                dict(color="#111111", width=2, dash="dash"),
                dict(color="#111111", width=2)]
for lx, lab, lstyle in zip(LEGEND_X, CONDITION_LABELS, LEGEND_LINES):
    shapes.append(dict(type="line", xref="paper", yref="paper",
                       x0=px(lx), x1=px(lx), y0=py(977), y1=py(952), line=lstyle))
    annotations.append(label(lab, lx, 947, 14, italic=True, yanchor="bottom"))

# ---------------------------------------------------------------- axis titles
for j, lab in enumerate(ELECTRODES):
    cx = (FRAME_X[j][0] + FRAME_X[j][1]) / 2
    annotations.append(label(lab, cx, 1003, 20))

annotations.append(dict(text="", x=px(468), y=py(1027), xref="paper", yref="paper",
                        showarrow=True, ax=95, ay=0, arrowhead=2, arrowsize=1,
                        arrowwidth=1.6, arrowcolor="black"))
annotations.append(label("Amplitude μV", 513, 1041, 13, angle=180, italic=True))
annotations.append(dict(text="", x=px(788), y=py(447), xref="paper", yref="paper",
                        showarrow=True, ax=0, ay=90, arrowhead=2, arrowsize=1,
                        arrowwidth=1.6, arrowcolor="black"))
annotations.append(label("Latency (ms)", 774, 484, 14, italic=True))

fig.update_layout(
    width=W, height=H, margin=dict(l=0, r=0, t=0, b=0),
    paper_bgcolor="white", plot_bgcolor="white", showlegend=False,
    shapes=shapes, annotations=annotations, **layout)

fig.write_html("out.html")
